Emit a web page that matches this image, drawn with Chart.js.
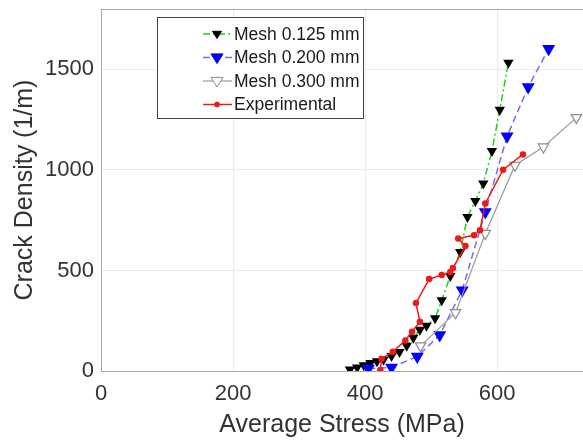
<!DOCTYPE html>
<html>
<head>
<meta charset="utf-8">
<script src="https://cdn.jsdelivr.net/npm/chart.js@4/dist/chart.umd.min.js"></script>
<style>
  html, body { margin: 0; padding: 0; background: #fff; }
  #wrap { width: 583px; height: 441px; }
</style>
</head>
<body>
<div id="wrap"><canvas id="crackChart" width="583" height="441"></canvas></div>
<script>
// values
const seriesNames = ['Mesh 0.125 mm', 'Mesh 0.200 mm', 'Mesh 0.300 mm', 'Experimental'];

const stress125  = [377, 388, 398, 408, 418, 428, 440, 452, 463, 473, 483, 493, 506, 516, 529, 544, 555, 567, 579, 592, 604, 617];
const density125 = [8, 18, 28, 40, 48, 57, 75, 95, 125, 165, 205, 225, 262, 352, 472, 592, 766, 845, 932, 1094, 1299, 1533];

const stress200  = [405, 440, 479, 513, 547, 582, 615, 647, 678];
const density200 = [12, 18, 72, 179, 402, 791, 1167, 1412, 1602];

const stress300  = [484, 537, 582, 627, 670, 720];
const density300 = [125, 290, 684, 1023, 1114, 1260];

const stressExp  = [423, 425, 442, 461, 471, 483, 477, 497, 516, 529, 533, 552, 541, 565, 574, 582, 609, 639];
const densityExp = [5, 60, 96, 152, 195, 245, 338, 457, 477, 492, 512, 622, 659, 675, 700, 833, 1001, 1077];

const xTicks = [0, 200, 400, 600];
const yTicks = [0, 500, 1000, 1500];

function pts(xs, ys) {
  return xs.map((x, i) => ({ x: x, y: ys[i] }));
}

const fontFamily = '"Liberation Sans", Arial, Helvetica, sans-serif';

// legend drawn inside the axes, like the original figure
const insideLegend = {
  id: 'insideLegend',
  afterDraw(chart) {
    const ctx = chart.ctx;
    const a = chart.chartArea;
    ctx.save();
    // top edge of the axes box
    ctx.strokeStyle = '#a8a8a8';
    ctx.lineWidth = 1;
    ctx.beginPath();
    ctx.moveTo(a.left, a.top + 0.5);
    ctx.lineTo(a.right, a.top + 0.5);
    ctx.stroke();

    const x0 = 157, y0 = 17, w = 206, h = 101;
    ctx.fillStyle = '#fff';
    ctx.fillRect(x0, y0, w, h);
    ctx.strokeStyle = '#444';
    ctx.strokeRect(x0 + 0.5, y0 + 0.5, w, h);

    chart.data.datasets.forEach((ds, i) => {
      const y = y0 + 17 + i * 23.5;
      ctx.setLineDash(ds.borderDash || []);
      ctx.strokeStyle = ds.borderColor;
      ctx.lineWidth = ds.borderWidth;
      ctx.beginPath();
      ctx.moveTo(x0 + 46, y);
      ctx.lineTo(x0 + 75, y);
      ctx.stroke();
      ctx.setLineDash([]);
      drawMarker(ctx, ds, x0 + 60, y);
      ctx.fillStyle = '#1a1a1a';
      ctx.font = '17.5px ' + fontFamily;
      ctx.textBaseline = 'middle';
      ctx.textAlign = 'left';
      ctx.fillText(ds.label, x0 + 77, y + 1);
    });
    ctx.restore();
  }
};

function drawMarker(ctx, ds, x, y) {
  const r = ds.pointRadius;
  ctx.fillStyle = ds.pointBackgroundColor;
  ctx.strokeStyle = ds.pointBorderColor;
  ctx.lineWidth = 1;
  ctx.beginPath();
  if (ds.pointStyle === 'triangle') {
    ctx.moveTo(x - r, y - r * 0.6);
    ctx.lineTo(x + r, y - r * 0.6);
    ctx.lineTo(x, y + r);
    ctx.closePath();
  } else {
    ctx.arc(x, y, r, 0, Math.PI * 2);
  }
  ctx.fill();
  ctx.stroke();
}

new Chart(document.getElementById('crackChart'), {
  type: 'line',
  plugins: [insideLegend],
  data: {
    datasets: [
      {
        label: seriesNames[0],
        data: pts(stress125, density125),
        borderColor: '#19d219',
        borderWidth: 1.5,
        borderDash: [7, 3, 2, 3],
        pointStyle: 'triangle',
        rotation: 180,
        pointRadius: 4.5,
        pointBackgroundColor: '#000',
        pointBorderColor: '#000',
        order: 4
      },
      {
        label: seriesNames[1],
        data: pts(stress200, density200),
        borderColor: '#6f6ff0',
        borderWidth: 1.5,
        borderDash: [7, 4],
        pointStyle: 'triangle',
        rotation: 180,
        pointRadius: 6,
        pointBackgroundColor: '#0000ff',
        pointBorderColor: '#0000ff',
        order: 3
      },
      {
        label: seriesNames[2],
        data: pts(stress300, density300),
        borderColor: '#9a9a9a',
        borderWidth: 1.2,
        pointStyle: 'triangle',
        rotation: 180,
        pointRadius: 6,
        pointBackgroundColor: '#fff',
        pointBorderColor: '#8c8c8c',
        order: 2
      },
      {
        label: seriesNames[3],
        data: pts(stressExp, densityExp),
        borderColor: '#f01818',
        borderWidth: 1.5,
        pointStyle: 'circle',
        pointRadius: 2.5,
        pointBackgroundColor: '#f01818',
        pointBorderColor: '#f01818',
        order: 1
      }
    ]
  },
  options: {
    responsive: false,
    animation: false,
    layout: { autoPadding: false, padding: { top: 9, right: 0, left: 0, bottom: 0 } },
    plugins: {
      legend: { display: false },
      tooltip: { enabled: false }
    },
    elements: { line: { tension: 0 } },
    scales: {
      x: {
        type: 'linear',
        min: 0,
        max: 730,
        afterBuildTicks: s => { s.ticks = xTicks.map(v => ({ value: v })); },
        afterFit: s => { s.height = 70; s.paddingLeft = 0; s.paddingRight = 0; },
        grid: { color: '#ececec', drawTicks: false },
        border: { color: '#a8a8a8' },
        ticks: { color: '#333', padding: 10, font: { family: fontFamily, size: 22 }, callback: v => String(v) },
        title: {
          display: true,
          text: 'Average Stress (MPa)',
          color: '#333',
          padding: { top: 0, bottom: 1 },
          font: { family: fontFamily, size: 25 }
        }
      },
      y: {
        type: 'linear',
        min: 0,
        max: 1800,
        afterBuildTicks: s => { s.ticks = yTicks.map(v => ({ value: v })); },
        afterFit: s => { s.width = 101; s.paddingTop = 0; s.paddingBottom = 0; },
        grid: { color: '#ececec', drawTicks: false },
        border: { color: '#a8a8a8' },
        ticks: { color: '#333', padding: 7, font: { family: fontFamily, size: 22 }, callback: v => String(v) },
        title: {
          display: true,
          text: 'Crack Density (1/m)',
          color: '#333',
          padding: { top: 10, bottom: 0 },
          font: { family: fontFamily, size: 25 }
        }
      }
    }
  }
});
</script>
</body>
</html>
